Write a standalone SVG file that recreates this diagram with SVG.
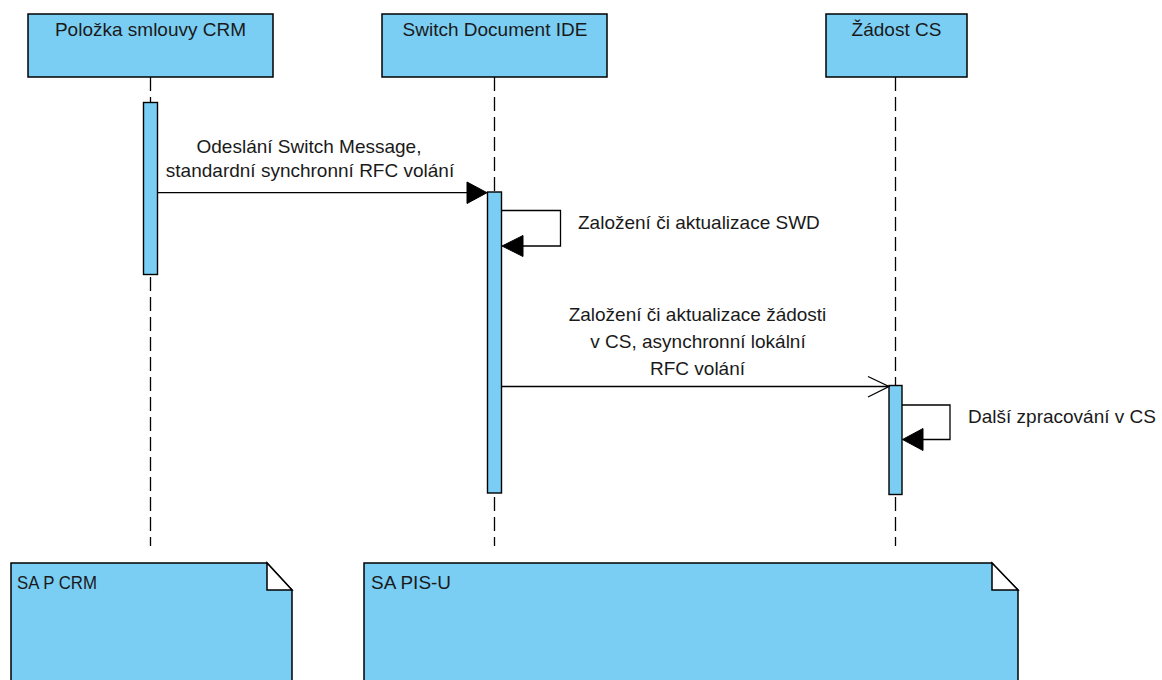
<svg xmlns="http://www.w3.org/2000/svg" width="1162" height="680" viewBox="0 0 1162 680">
<style>
.box{fill:#7acef4;stroke:#000;stroke-width:1.5}
.act{fill:#7acef4;stroke:#000;stroke-width:1.4}
.life{stroke:#000;stroke-width:1.3;stroke-dasharray:14,6;fill:none}
.msg{stroke:#000;stroke-width:1.3;fill:none}
.head{fill:#000;stroke:#000;stroke-width:1}
.t{font-family:"Liberation Sans",Arial,sans-serif;font-size:19px;fill:#1a1a1a}
.c{text-anchor:middle}
.fold{fill:#fff;stroke:#000;stroke-width:1.5}
</style>
<rect width="1162" height="680" fill="#fff"/>
<g id="lifelines">
<line class="life" x1="150.5" y1="77" x2="150.5" y2="546"/>
<line class="life" x1="494.5" y1="77" x2="494.5" y2="546"/>
<line class="life" x1="895.5" y1="77" x2="895.5" y2="546"/>
</g>
<g id="node-crm">
<rect class="box" x="28" y="14" width="245" height="63"/>
<text class="t c" x="150.5" y="36">Položka smlouvy CRM</text>
<rect class="act" x="143.5" y="102.5" width="14" height="172"/>
</g>
<g id="node-ide">
<rect class="box" x="382" y="14" width="225" height="63"/>
<text class="t c" x="495" y="36">Switch Document IDE</text>
<rect class="act" x="487.5" y="192" width="14" height="301"/>
</g>
<g id="node-cs">
<rect class="box" x="826" y="14" width="141" height="63"/>
<text class="t c" x="896.5" y="36">Žádost CS</text>
<rect class="act" x="889" y="385.5" width="13" height="109"/>
</g>
<g id="connectors">
<line class="msg" x1="157.5" y1="192.7" x2="485" y2="192.7"/>
<polygon class="head" points="487,192.7 467,182 467,203.5"/>
<text class="t c" x="309" y="153">Odeslání Switch Message,</text>
<text class="t c" x="310" y="177">standardní synchronní RFC volání</text>
<polyline class="msg" points="501.5,210.5 560.5,210.5 560.5,246 520,246"/>
<polygon class="head" points="502,246 523,235.5 523,256.5"/>
<text class="t" x="578" y="229">Založení či aktualizace SWD</text>
<line class="msg" x1="501.5" y1="386.5" x2="888" y2="386.5"/>
<polyline class="msg" points="868,376.5 889,386.5 868,397"/>
<text class="t c" x="697.5" y="321">Založení či aktualizace žádosti</text>
<text class="t c" x="698" y="348">v CS, asynchronní lokální</text>
<text class="t c" x="697.5" y="375">RFC volání</text>
<polyline class="msg" points="902,405 950,405 950,439.5 920,439.5"/>
<polygon class="head" points="902.5,439.5 923,428.5 923,450.5"/>
<text class="t" x="968" y="423">Další zpracování v CS</text>
</g>
<g id="note-crm">
<polygon class="box" points="11,563 267,563 292,590 292,690 11,690"/>
<polygon class="fold" points="267,563 267,590 292,590"/>
<text class="t" x="17" y="589" textLength="80" lengthAdjust="spacingAndGlyphs">SA P CRM</text>
</g>
<g id="note-isu">
<polygon class="box" points="364,563 992,563 1018,590 1018,690 364,690"/>
<polygon class="fold" points="992,563 992,590 1018,590"/>
<text class="t" x="371" y="589" textLength="80" lengthAdjust="spacingAndGlyphs">SA PIS-U</text>
</g>
</svg>
